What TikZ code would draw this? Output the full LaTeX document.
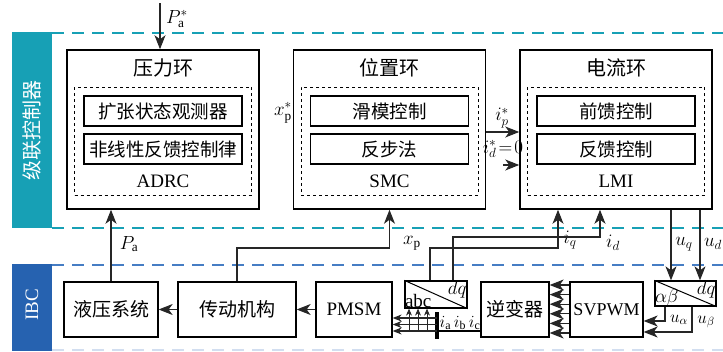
\RequirePackage{fix-cm}
\documentclass[tikz,border=0pt]{standalone}
\usepackage{fontspec}
\setmainfont{Liberation Serif}
\newfontfamily\cjk{Noto Sans CJK SC}
\usepackage{tikz}
\usepackage{xcolor}
\usetikzlibrary{arrows.meta,positioning,calc}

\definecolor{ctrlcyan}{RGB}{23,160,181}
\definecolor{ibcblue}{RGB}{38,98,176}
\definecolor{lineblue}{RGB}{70,125,196}
\definecolor{paleblue}{RGB}{210,222,240}

\begin{document}
\begin{tikzpicture}[x=1pt,y=-1pt,
    loopbox/.style={draw,line width=1.5pt,minimum width=192pt,minimum height=159pt},
    algbox/.style={draw,dashed,line width=1pt,minimum width=177pt,minimum height=108pt},
    subbox/.style={draw,line width=1.1pt,minimum width=158pt,minimum height=30pt,font=\cjk\fontsize{18.5}{20}\selectfont},
    plant/.style={draw,line width=1.3pt,minimum height=55pt,inner sep=0pt},
    conv/.style={draw,line width=1.3pt,inner sep=0pt},
    cn/.style={font=\cjk\fontsize{19}{21}\selectfont},
    en/.style={font=\fontsize{19}{21}\selectfont},
    lab/.style={font=\fontsize{19}{21}\selectfont,inner sep=1pt},
    sep/.style={line width=2.4pt,dash pattern=on 12pt off 8pt},
    arr/.style={-{Stealth[length=14pt,width=11pt,inset=4pt]},line width=1.1pt,black!85},
    tap/.style={-{Stealth[length=7pt,width=6pt]},line width=0.8pt,black!85}
]
\useasboundingbox (0,0) rectangle (723,351);
% side bands
\fill[ctrlcyan] (12,32) rectangle (52,228);
\fill[ibcblue] (12,264) rectangle (52,351);
\node[cn,rotate=90,text=white,font=\cjk\fontsize{20}{22}\selectfont] (ctrlT) at (32,130) {级联控制器};
\node[en,rotate=90,text=white] (ibcT) at (32,305) {IBC};
\draw[sep,ctrlcyan] (52,33) -- (723,33);
\draw[sep,ctrlcyan] (52,228) -- (723,228);
\draw[sep,lineblue] (52,265) -- (723,265);
\draw[sep,paleblue] (52,350) -- (723,350);
% cascade loops
\foreach \n/\x/\title/\one/\two/\alg in {pres/163/压力环/扩张状态观测器/非线性反馈控制律/ADRC,
    pos/389.5/位置环/滑模控制/反步法/SMC, cur/616/电流环/前馈控制/反馈控制/LMI}{
  \node[loopbox] (\n) at (\x,129.5) {};
  \node[cn,font=\cjk\fontsize{20}{22}\selectfont] (\n-t) at (\x,68) {\title};
  \node[algbox] (\n-a) at (\x,141) {};
  \node[subbox] (\n-1) at (\x,111) {\one};
  \node[subbox] (\n-2) at (\x,149) {\two};
  \node[en] (\n-l) at (\x,181) {\alg};
}
% plant row
\node[plant,minimum width=94pt,cn] (hyd) at (111,309.5) {液压系统};
\node[plant,minimum width=118pt,cn] (drive) at (237,309.5) {传动机构};
\node[plant,minimum width=76pt,en] (pmsm) at (354,309.5) {PMSM};
\node[conv,minimum width=62pt,minimum height=27pt] (park) at (436,294.5) {};
\node[plant,minimum width=68pt,cn] (inv) at (515,309.5) {逆变器};
\node[plant,minimum width=73pt,en,font=\fontsize{18}{20}\selectfont] (svpwm) at (606.5,309.5) {SVPWM};
\node[conv,minimum width=61pt,minimum height=25pt] (ipark) at (685.5,293.5) {};
\draw[line width=1pt] (park.north west) -- (park.south east);
\draw[line width=1pt] (ipark.north west) -- (ipark.south east);
\node[lab,anchor=south west,inner sep=0.5pt] (park-abc) at (park.south west) {abc};
\node[lab,anchor=north east,inner sep=1pt] (park-dq) at (park.north east) {$dq$};
\node[lab,anchor=south west,inner sep=0.5pt] (ipark-ab) at (ipark.south west) {$\alpha\beta$};
\node[lab,anchor=north east,inner sep=1pt] (ipark-dq) at (ipark.north east) {$dq$};
% references
\coordinate (paref) at (160,3);
\draw[arr] (paref) -- (paref |- pres.north);
\node[lab] (pastar) at (177,19) {$P_\mathrm{a}^*$};
\node[lab] (xpstar) at (283,113) {$x_\mathrm{p}^*$};
\draw[arr] (pos.east |- 0,132) -- (cur.west |- 0,132);
\node[lab] (ipstar) at (502,118) {$i_p^*$};
\coordinate (idref) at (503,165);
\draw[arr] (idref) -- (cur.west |- idref);
\node[lab] (idstar) at (503,149) {$i_d^*\!=\!0$};
% forward path
\draw[arr] (drive.west) -- (hyd.east);
\draw[arr] (pmsm.west) -- (drive.east);
\foreach \y in {285,294.6,304.2,313.8,323.4,333}
    \draw[arr] (svpwm.west |- 0,\y) -- (inv.east |- 0,\y);
\coordinate (bus) at (437,331);
\draw[line width=2.2pt] (inv.west |- bus) -- (bus);
\draw[line width=3.5pt] (437,312) -- (437,339);
\foreach \y in {318,324.5,331}
    \draw[arr,-{Stealth[length=9pt,width=7pt]}] (bus |- 0,\y) -- (pmsm.east |- 0,\y);
\foreach \x in {409,418,427}
    \draw[tap] (\x,331) -- (park.south -| \x,0);
\node[lab,font=\fontsize{17}{19}\selectfont] (iabc) at (460,323) {$i_\mathrm{a}\,i_\mathrm{b}\,i_\mathrm{c}$};
% feedback
\draw[arr] (hyd.north) -- (hyd.north |- pres.south);
\node[lab] (pa) at (129,244) {$P_\mathrm{a}$};
\draw[arr] (drive.north) |- (pos.south |- 0,248) -- (pos.south);
\node[lab] (xp) at (412,243) {$x_\mathrm{p}$};
\draw[arr] (park.north -| 430,0) |- (558,248) -- (cur.south -| 558,0);
\node[lab] (iq) at (570,240) {$i_q$};
\draw[arr] (park.north -| 453,0) |- (600,237) -- (cur.south -| 600,0);
\node[lab] (id) at (613,243) {$i_d$};
\draw[arr] (cur.south -| 671,0) -- (ipark.north -| 671,0);
\draw[arr] (cur.south -| 700,0) -- (ipark.north -| 700,0);
\node[lab] (uq) at (684,244) {$u_q$};
\node[lab] (ud) at (713,244) {$u_d$};
\draw[arr] (ipark.south -| 665,0) |- (svpwm.east |- 0,321);
\draw[arr] (ipark.south -| 692,0) |- (svpwm.east |- 0,332);
\node[lab,font=\fontsize{17}{19}\selectfont] (ua) at (679,320) {$u_\alpha$};
\node[lab,font=\fontsize{17}{19}\selectfont] (ub) at (706,322) {$u_\beta$};
\end{tikzpicture}
\end{document}
